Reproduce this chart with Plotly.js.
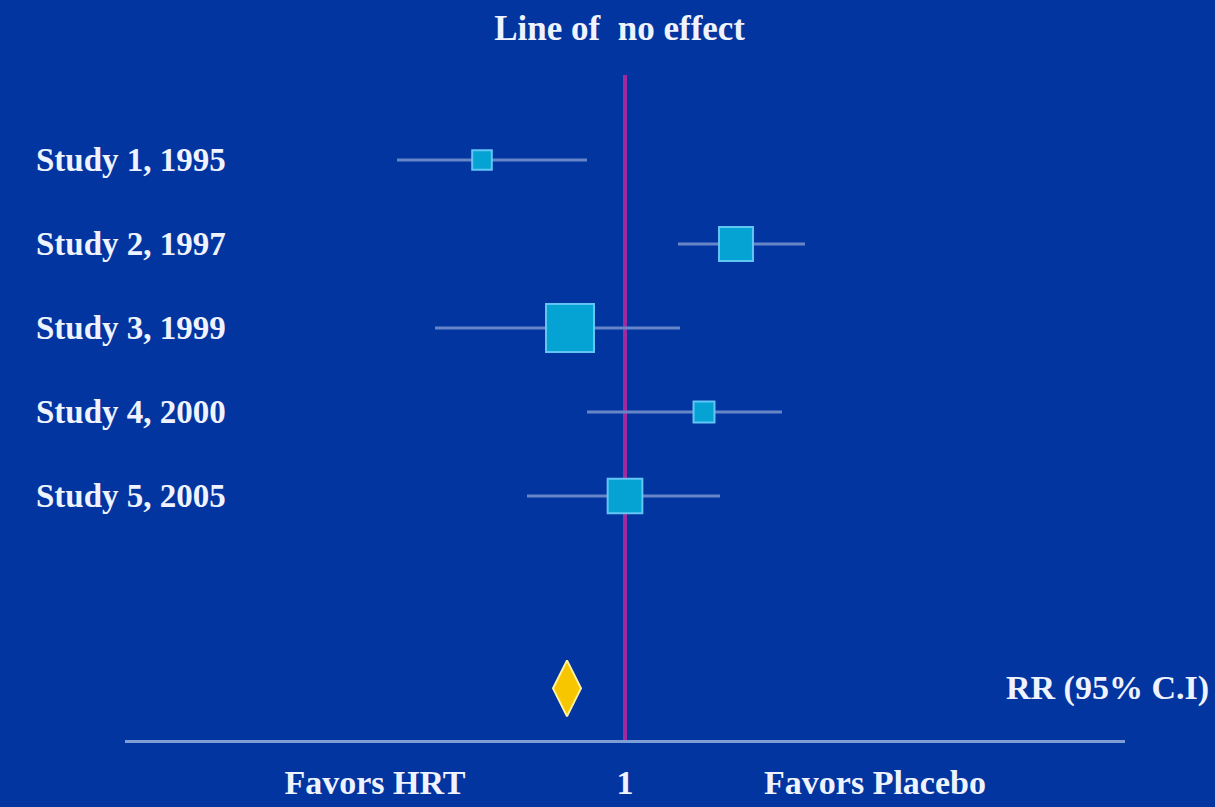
<!DOCTYPE html>
<html>
<head>
<meta charset="utf-8">
<script src="https://cdn.plot.ly/plotly-3.0.1.min.js"></script>
<style>
  html, body { margin: 0; padding: 0; background: #0335a0; }
  #chart { width: 1215px; height: 807px; }
</style>
</head>
<body>
<div id="chart"></div>
<script>
// ---- data ----
const studies   = ['Study 1, 1995', 'Study 2, 1997', 'Study 3, 1999', 'Study 4, 2000', 'Study 5, 2005'];
const rr        = [0.714, 1.222, 0.890, 1.158, 1.000];
const ciLow     = [0.544, 1.106, 0.620, 0.924, 0.804];
const ciHigh    = [0.924, 1.360, 1.110, 1.314, 1.190];
const weights   = [7, 21, 42, 8, 22];
const pooledRR  = [0.884];
const pooledLbl = ['RR (95% C.I)'];
const tickVals  = [0.5, 1, 1.5];
const tickText  = ['Favors HRT', '1', 'Favors Placebo'];
const noEffect  = 1;
const titleText = 'Line of&nbsp;&nbsp;no effect';

// ---- layout helpers ----
const n = studies.length;
const rows = studies.map((_, i) => n - i);
const pooledRow = -1.29;
const font = 'Liberation Serif, Times New Roman, serif';
const txt = '#eef3ff';

const studyTrace = {
  type: 'scatter', mode: 'markers',
  x: rr, y: rows,
  error_x: {
    type: 'data', symmetric: false,
    array: rr.map((v, i) => ciHigh[i] - v),
    arrayminus: rr.map((v, i) => v - ciLow[i]),
    color: '#6686c8', thickness: 3, width: 0
  },
  marker: {
    symbol: 'square', opacity: 1,
    size: weights.map(w => 7.4 * Math.sqrt(w)),
    color: '#05a2d4',
    line: { color: '#62c6f4', width: 2 }
  },
  hoverinfo: 'skip'
};

const pooledTrace = {
  type: 'scatter', mode: 'markers',
  x: pooledRR, y: [pooledRow],
  marker: {
    symbol: 'diamond-tall', size: 40, color: '#f7c600', opacity: 1,
    line: { color: '#fff2a0', width: 2 }
  },
  hoverinfo: 'skip'
};

const annotations = studies.map((s, i) => ({
  xref: 'paper', yref: 'y', x: 0.103, y: rows[i],
  xanchor: 'right', yanchor: 'middle', showarrow: false,
  text: s, font: { family: font, size: 33, color: txt, weight: 'bold' }
}));
annotations.push({
  xref: 'paper', yref: 'y', x: 1.086, y: pooledRow,
  xanchor: 'right', yanchor: 'middle', showarrow: false,
  text: pooledLbl[0], font: { family: font, size: 34, color: txt, weight: 'bold' }
});

const layout = {
  width: 1215, height: 807,
  margin: { l: 125, r: 90, t: 75, b: 67 },
  paper_bgcolor: '#0335a0', plot_bgcolor: '#0335a0',
  showlegend: false,
  title: {
    text: titleText, x: 0.51, xanchor: 'center', y: 0.965, yanchor: 'middle',
    font: { family: font, size: 35, color: txt, weight: 'bold' }
  },
  xaxis: {
    range: [0, 2], showgrid: false, zeroline: false,
    showline: true, linecolor: '#7f9ed6', linewidth: 3,
    tickvals: tickVals, ticktext: tickText,
    ticks: 'outside', ticklen: 10, tickcolor: 'rgba(0,0,0,0)',
    tickfont: { family: font, size: 34, color: txt, weight: 'bold' }
  },
  yaxis: {
    range: [-1.905, 6.012], showgrid: false, zeroline: false,
    showline: false, showticklabels: false, ticks: ''
  },
  shapes: [{
    type: 'line', xref: 'x', yref: 'paper',
    x0: noEffect, x1: noEffect, y0: 0, y1: 1,
    line: { color: '#a02a9e', width: 4 }, layer: 'below'
  }],
  annotations: annotations
};

Plotly.newPlot('chart', [studyTrace, pooledTrace], layout, { staticPlot: true, displayModeBar: false });
</script>
</body>
</html>
